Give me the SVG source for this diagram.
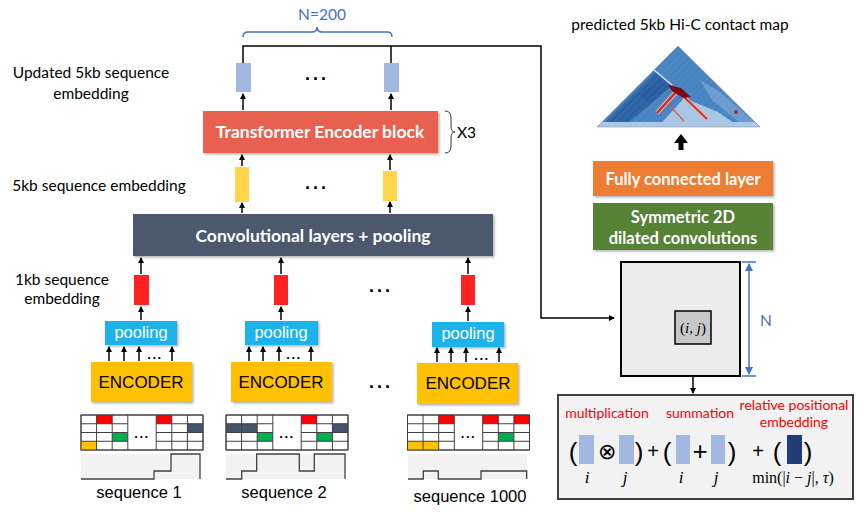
<svg xmlns="http://www.w3.org/2000/svg" width="862" height="512" viewBox="0 0 862 512">
<defs>
<marker id="ah" markerWidth="6" markerHeight="6" refX="5" refY="3" orient="auto" markerUnits="userSpaceOnUse"><path d="M0,0 L6,3 L0,6 Z" fill="#000"/></marker>
<marker id="bh" markerWidth="8" markerHeight="8" refX="7" refY="4" orient="auto-start-reverse" markerUnits="userSpaceOnUse"><path d="M0,0 L8,4 L0,8 Z" fill="#4472c4"/></marker>
<filter id="sh" x="-5%" y="-10%" width="112%" height="130%"><feDropShadow dx="1.5" dy="1.5" stdDeviation="1" flood-color="#000" flood-opacity="0.3"/></filter>
<clipPath id="tri"><polygon points="678,46 597,127 760,127"/></clipPath>
<pattern id="hatch" width="5" height="5" patternUnits="userSpaceOnUse" patternTransform="rotate(45)"><line x1="0" y1="0" x2="0" y2="5" stroke="#ffffff" stroke-width="0.5" opacity="0.25"/></pattern>
</defs>
<style>
.lbl{font-family:Lato,"Liberation Sans",sans-serif;font-size:15.5px;fill:#000}
.bw{font-family:Lato,"Open Sans",sans-serif;font-weight:bold;fill:#fff;text-anchor:middle}
.ar{font-family:"Liberation Sans",Arial,sans-serif;text-anchor:middle}
.red{font-family:Lato,"Liberation Sans",sans-serif;font-size:14px;fill:#ff0000;text-anchor:middle}
.mth{font-family:"Liberation Serif",serif;text-anchor:middle;fill:#000}
.con{stroke:#000;stroke-width:1.5;fill:none}
.ua{stroke:#000;stroke-width:1.5;fill:none;marker-end:url(#ah)}
.cell{fill:#fff;stroke:#404040;stroke-width:1}
.grd{fill:none;stroke:#404040;stroke-width:1}
.stp{fill:none;stroke:#404040;stroke-width:1.3}
.sbg{fill:#f2f2f2}
.brct{fill:none;stroke:#4472c4;stroke-width:1.5}
.dots{font-family:"Liberation Sans",sans-serif;font-weight:bold;font-size:18px;text-anchor:middle;letter-spacing:3px;fill:#000}
.sd{font-size:13px;letter-spacing:1.5px}
</style>
<rect width="862" height="512" fill="#fff"/>

<g id="labels">
<text class="lbl" x="91" y="78" text-anchor="middle">Updated 5kb sequence</text>
<text class="lbl" x="91" y="99" text-anchor="middle">embedding</text>
<text class="lbl" x="99" y="191" text-anchor="middle">5kb sequence embedding</text>
<text class="lbl" x="62" y="285" text-anchor="middle">1kb sequence</text>
<text class="lbl" x="62" y="304" text-anchor="middle">embedding</text>
<text class="lbl" x="322" y="20" text-anchor="middle" style="fill:#4472c4">N=200</text>
<path class="brct" d="M243,37 Q243,32 248,32 H312 Q317,32 317,27 Q317,32 322,32 H387 Q392,32 392,37"/>
</g>

<g id="connectors">
<path class="con" d="M243,63 V46 H541 V318 H614" marker-end="url(#ah)"/>
<path class="con" d="M391,63 V46"/>
<path class="ua" d="M243,110 V94"/>
<path class="ua" d="M391,110 V94"/>
<path class="ua" d="M242,166 V155"/>
<path class="ua" d="M390,170 V155"/>
<path class="ua" d="M242,213 V203"/>
<path class="ua" d="M390,213 V202"/>
<path class="ua" d="M141,274 V258"/>
<path class="ua" d="M281,274 V258"/>
<path class="ua" d="M468,274 V258"/>
<path class="ua" d="M141,320 V307"/>
<path class="ua" d="M281,320 V307"/>
<path class="ua" d="M468,321 V307"/>
<path class="ua" d="M109,361 V347"/><path class="ua" d="M124,361 V347"/><path class="ua" d="M139,361 V347"/><path class="ua" d="M172,361 V347"/>
<path class="ua" d="M249,361 V347"/><path class="ua" d="M263,361 V347"/><path class="ua" d="M279,361 V347"/><path class="ua" d="M311,361 V347"/>
<path class="ua" d="M437,362 V348"/><path class="ua" d="M451,362 V348"/><path class="ua" d="M466,362 V348"/><path class="ua" d="M499,362 V348"/>
<path class="ua" d="M693,344 V393"/>
</g>

<g id="updated-emb">
<rect x="236" y="63" width="15" height="29" fill="#a3b8e1"/>
<rect x="384" y="63" width="15" height="29" fill="#a3b8e1"/>
<text class="dots" x="317" y="80">...</text>
</g>

<g id="transformer">
<rect x="203" y="111" width="235" height="42" fill="#e8604f" filter="url(#sh)"/>
<text class="bw" x="320" y="138" font-size="17.5">Transformer Encoder block</text>
<path d="M445,111 Q451,111 451,118 V126 Q451,132 455,132 Q451,132 451,138 V146 Q451,153 445,153" fill="none" stroke="#333" stroke-width="1"/>
<text class="lbl" x="457" y="138">X3</text>
</g>

<g id="yellow-emb">
<rect x="235" y="167" width="14" height="35" fill="#ffd54a"/>
<rect x="383" y="171" width="14" height="30" fill="#ffd54a"/>
<text class="dots" x="317" y="189">...</text>
</g>

<g id="conv">
<rect x="133" y="214" width="360" height="42" fill="#4b596d" filter="url(#sh)"/>
<text class="bw" x="313" y="242" font-size="17.5">Convolutional layers + pooling</text>
</g>

<g id="red-emb">
<rect x="134" y="275" width="15" height="30" fill="#ff2222"/>
<rect x="274" y="275" width="14" height="30" fill="#ff2222"/>
<rect x="461" y="275" width="14" height="30" fill="#ff2222"/>
<text class="dots" x="381" y="292">...</text>
</g>

<g id="seq1">
<rect x="105" y="321" width="72" height="24" fill="#1fb3ea" filter="url(#sh)"/>
<text class="ar" x="141" y="338" font-size="16.5" fill="#fff">pooling</text>
<text class="dots sd" x="155" y="359">...</text>
<rect x="91" y="362" width="101" height="40" fill="#ffc000" filter="url(#sh)"/>
<text class="ar" x="141" y="388" font-size="17">ENCODER</text>
<g transform="translate(81,415)">
<rect class="cell" x="0" y="0" width="122" height="35"/>
<rect x="15.6" y="0" width="15.6" height="8.75" fill="#ff0000"/>
<rect x="75.2" y="0" width="15.6" height="8.75" fill="#ff0000"/>
<rect x="106.4" y="8.75" width="15.6" height="8.75" fill="#44546a"/>
<rect x="31.2" y="17.5" width="15.6" height="8.75" fill="#00b050"/>
<rect x="0" y="26.25" width="15.6" height="8.75" fill="#ffc000"/>
<path class="grd" d="M0,0 H122 V35 H0 Z M15.6,0 V35 M31.2,0 V35 M46.8,0 V35 M75.2,0 V35 M90.8,0 V35 M106.4,0 V35 M0,8.75 H46.8 M0,17.5 H46.8 M0,26.25 H46.8 M75.2,8.75 H122 M75.2,17.5 H122 M75.2,26.25 H122"/>
<text class="dots sd" x="61" y="23">...</text>
</g>
<rect class="sbg" x="81" y="454" width="119" height="25"/>
<path class="stp" d="M81,479 H154 V471 H171 V454 H200 V479"/>
<text class="ar" x="139" y="498" font-size="16.5">sequence 1</text>
</g>

<g id="seq2">
<rect x="245" y="321" width="73" height="24" fill="#1fb3ea" filter="url(#sh)"/>
<text class="ar" x="281" y="338" font-size="16.5" fill="#fff">pooling</text>
<text class="dots sd" x="294" y="359">...</text>
<rect x="231" y="362" width="101" height="40" fill="#ffc000" filter="url(#sh)"/>
<text class="ar" x="281" y="388" font-size="17">ENCODER</text>
<g transform="translate(226,415)">
<rect class="cell" x="0" y="0" width="122" height="35"/>
<rect x="75.2" y="0" width="15.6" height="8.75" fill="#ff0000"/>
<rect x="0" y="8.75" width="31.2" height="8.75" fill="#44546a"/>
<rect x="106.4" y="8.75" width="15.6" height="8.75" fill="#44546a"/>
<rect x="31.2" y="17.5" width="15.6" height="8.75" fill="#00b050"/>
<rect x="90.8" y="17.5" width="15.6" height="8.75" fill="#00b050"/>
<path class="grd" d="M0,0 H122 V35 H0 Z M15.6,0 V35 M31.2,0 V35 M46.8,0 V35 M75.2,0 V35 M90.8,0 V35 M106.4,0 V35 M0,8.75 H46.8 M0,17.5 H46.8 M0,26.25 H46.8 M75.2,8.75 H122 M75.2,17.5 H122 M75.2,26.25 H122"/>
<text class="dots sd" x="61" y="23">...</text>
</g>
<rect class="sbg" x="226" y="454" width="119" height="25"/>
<path class="stp" d="M226,479 H241.7 V471 H256.7 V454 H299.3 V471 H314.3 V454 H345 V479"/>
<text class="ar" x="284" y="498" font-size="16.5">sequence 2</text>
</g>

<text class="dots" x="381" y="388">...</text>

<g id="seq1000">
<rect x="432" y="322" width="72" height="25" fill="#1fb3ea" filter="url(#sh)"/>
<text class="ar" x="468" y="339" font-size="16.5" fill="#fff">pooling</text>
<text class="dots sd" x="482" y="360">...</text>
<rect x="417" y="363" width="101" height="41" fill="#ffc000" filter="url(#sh)"/>
<text class="ar" x="468" y="389" font-size="17">ENCODER</text>
<g transform="translate(407.5,415)">
<rect class="cell" x="0" y="0" width="122" height="35"/>
<rect x="31.2" y="0" width="15.6" height="8.75" fill="#ff0000"/>
<rect x="75.2" y="0" width="15.6" height="8.75" fill="#ff0000"/>
<rect x="106.4" y="0" width="15.6" height="8.75" fill="#ff0000"/>
<rect x="90.8" y="17.5" width="15.6" height="8.75" fill="#00b050"/>
<rect x="0" y="26.25" width="31.2" height="8.75" fill="#ffc000"/>
<path class="grd" d="M0,0 H122 V35 H0 Z M15.6,0 V35 M31.2,0 V35 M46.8,0 V35 M75.2,0 V35 M90.8,0 V35 M106.4,0 V35 M0,8.75 H46.8 M0,17.5 H46.8 M0,26.25 H46.8 M75.2,8.75 H122 M75.2,17.5 H122 M75.2,26.25 H122"/>
<text class="dots sd" x="61" y="23">...</text>
</g>
<rect class="sbg" x="408" y="454" width="119" height="25"/>
<path class="stp" d="M408,479 H423.3 V471 H438.3 V479 H481 V471 H526.7 V479"/>
<text class="ar" x="470" y="502" font-size="16.5">sequence 1000</text>
</g>

<g id="hic">
<text class="lbl" x="680" y="30" text-anchor="middle">predicted 5kb Hi-C contact map</text>
<g clip-path="url(#tri)">
<rect x="597" y="46" width="163" height="81" fill="#4784c1"/>
<polygon points="606,121 655,72 672,86 623,127 606,127" fill="#2d63a4"/>
<polygon points="640,95 660,78 668,86 648,104" fill="#2458a0" opacity="0.6"/>
<polygon points="658,127 684,98 718,112 740,127" fill="#a7c6e5"/>
<polygon points="700,80 720,92 760,127 745,127 712,100" fill="#79a6d4" opacity="0.7"/>
<rect x="597" y="122" width="163" height="5" fill="#a9c7e6"/>
<rect x="597" y="46" width="163" height="81" fill="url(#hatch)"/>
<line x1="654" y1="70" x2="672" y2="85" stroke="#d6e4f3" stroke-width="1.5"/>
<line x1="676" y1="92" x2="657" y2="113" stroke="#f1b3a4" stroke-width="4.5"/>
<line x1="682" y1="95" x2="707" y2="119" stroke="#f1b3a4" stroke-width="4"/>
<line x1="676" y1="92" x2="657" y2="113" stroke="#c0302c" stroke-width="2.5"/>
<line x1="682" y1="95" x2="707" y2="119" stroke="#c83a34" stroke-width="2"/>
<line x1="668" y1="104" x2="684" y2="121" stroke="#d95a4a" stroke-width="1.2"/>
<path d="M668,85 L681,88 L691,97 L683,98 L672,91 Z" fill="#7d0a19"/>
<circle cx="736" cy="112" r="2" fill="#b02a2a"/>
</g>
<polygon points="678,46 597,127 760,127" fill="none" stroke="#888" stroke-width="0.5"/>
<path d="M681,134 L688,143 H683.5 V150 H678.5 V143 H674 Z" fill="#000"/>
</g>

<g id="fc">
<rect x="593" y="161" width="180" height="35" fill="#ed7d31" filter="url(#sh)"/>
<text class="bw" x="683" y="185" font-size="16.5">Fully connected layer</text>
</g>
<g id="sym2d">
<rect x="593" y="203" width="180" height="47" fill="#548235" filter="url(#sh)"/>
<text class="bw" x="683" y="223" font-size="16.5">Symmetric 2D</text>
<text class="bw" x="683" y="244" font-size="16.5">dilated convolutions</text>
</g>

<g id="pairmap">
<rect x="621" y="262" width="119" height="114" fill="#ececec" stroke="#000" stroke-width="2"/>
<rect x="675" y="311" width="36" height="33" fill="#c8c8c8" stroke="#000" stroke-width="1.5"/>
<text class="mth" x="693" y="333" font-size="15"><tspan>(</tspan><tspan font-style="italic">i</tspan><tspan>, </tspan><tspan font-style="italic">j</tspan><tspan>)</tspan></text>
<line x1="749" y1="264" x2="749" y2="374" stroke="#4472c4" stroke-width="1.5" marker-start="url(#bh)" marker-end="url(#bh)"/>
<line x1="742" y1="262" x2="756" y2="262" stroke="#4472c4" stroke-width="1.5"/>
<line x1="742" y1="376" x2="756" y2="376" stroke="#4472c4" stroke-width="1.5"/>
<text class="lbl" x="766" y="326" text-anchor="middle" style="fill:#4472c4">N</text>
</g>

<g id="formula">
<rect x="558" y="395" width="295" height="104" fill="#f2f2f2" stroke="#404040" stroke-width="2"/>
<text class="red" x="607" y="418">multiplication</text>
<text class="red" x="700" y="418">summation</text>
<text class="red" x="794" y="410">relative positional</text>
<text class="red" x="794" y="427">embedding</text>
<g font-family="Liberation Sans,sans-serif" font-size="26" text-anchor="middle">
<text x="573" y="461">(</text>
<text x="639" y="461">)</text>
<text x="667" y="461">(</text>
<text x="732" y="461">)</text>
<text x="777" y="461">(</text>
<text x="808" y="461">)</text>
</g>
<rect x="579" y="435" width="15" height="29" fill="#a3b8e1"/>
<rect x="619" y="435" width="15" height="29" fill="#a3b8e1"/>
<rect x="676" y="435" width="14" height="29" fill="#a3b8e1"/>
<rect x="711" y="435" width="14" height="29" fill="#a3b8e1"/>
<rect x="787" y="435" width="15" height="29" fill="#203e75"/>
<text class="mth" x="607" y="459" font-size="22">⊗</text>
<text class="ar" x="653" y="458" font-size="20">+</text>
<text class="ar" x="700" y="460" font-size="26">+</text>
<text class="ar" x="758" y="458" font-size="20">+</text>
<text class="mth" x="587" y="483" font-size="17" font-style="italic">i</text>
<text class="mth" x="625" y="483" font-size="17" font-style="italic">j</text>
<text class="mth" x="681" y="483" font-size="17" font-style="italic">i</text>
<text class="mth" x="716" y="483" font-size="17" font-style="italic">j</text>
<text class="mth" x="793" y="483" font-size="16">min(|<tspan font-style="italic">i</tspan> − <tspan font-style="italic">j</tspan>|, <tspan font-style="italic">τ</tspan>)</text>
</g>
</svg>
